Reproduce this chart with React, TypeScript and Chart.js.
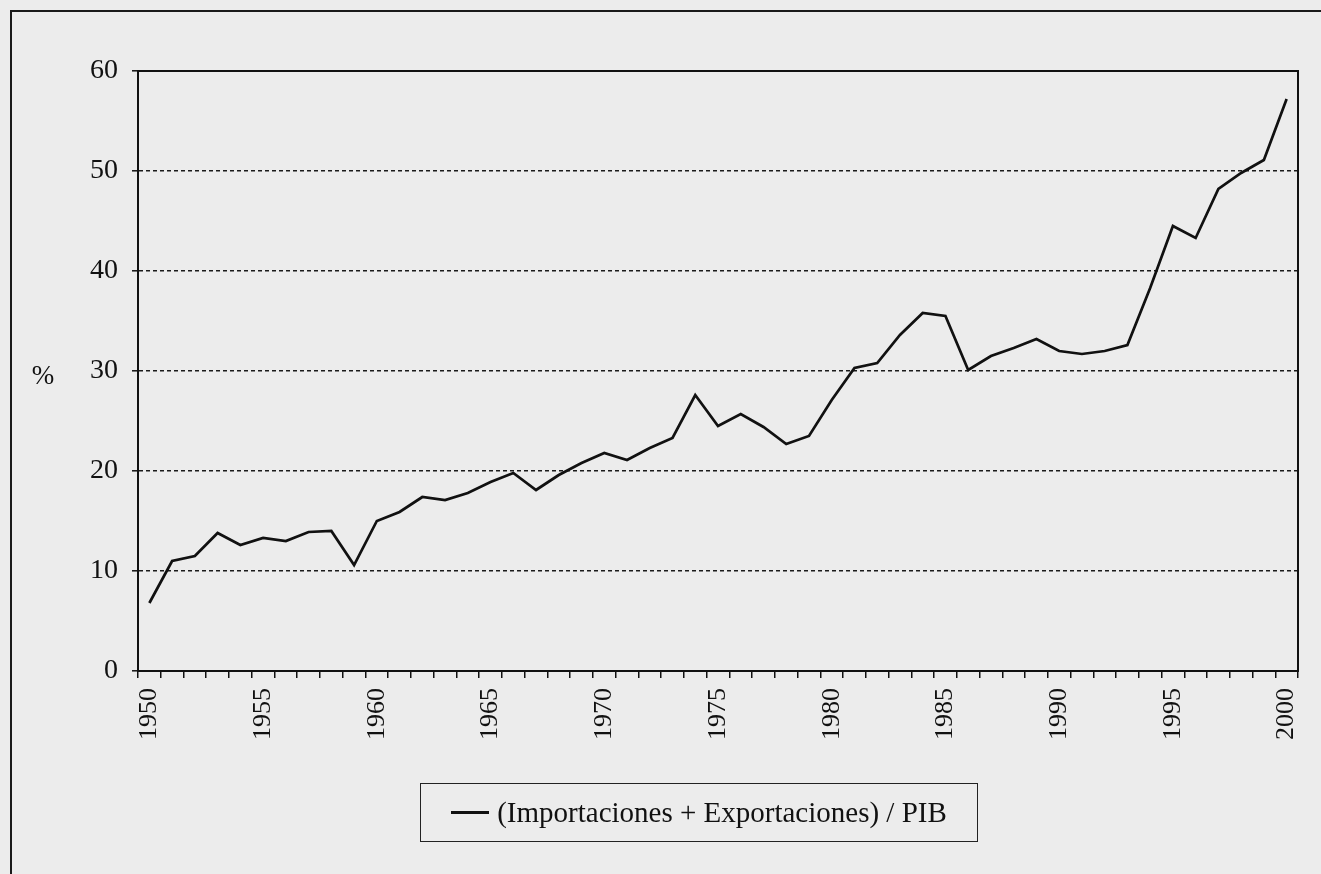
import React, { useEffect, useRef } from "react";
import { Chart, registerables } from "chart.js";

Chart.register(...registerables);

const years: string[] = [
  "1950", "1951", "1952", "1953", "1954", "1955", "1956", "1957", "1958", "1959",
  "1960", "1961", "1962", "1963", "1964", "1965", "1966", "1967", "1968", "1969",
  "1970", "1971", "1972", "1973", "1974", "1975", "1976", "1977", "1978", "1979",
  "1980", "1981", "1982", "1983", "1984", "1985", "1986", "1987", "1988", "1989",
  "1990", "1991", "1992", "1993", "1994", "1995", "1996", "1997", "1998", "1999",
  "2000",
];

const apertura: number[] = [
  6.8, 11.0, 11.5, 13.8, 12.6, 13.3, 13.0, 13.9, 14.0, 10.6,
  15.0, 15.9, 17.4, 17.1, 17.8, 18.9, 19.8, 18.1, 19.6, 20.8,
  21.8, 21.1, 22.3, 23.3, 27.6, 24.5, 25.7, 24.4, 22.7, 23.5,
  27.1, 30.3, 30.8, 33.6, 35.8, 35.5, 30.1, 31.5, 32.3, 33.2,
  32.0, 31.7, 32.0, 32.6, 38.3, 44.5, 43.3, 48.2, 49.8, 51.1,
  57.2,
];

const yTicks: number[] = [0, 10, 20, 30, 40, 50, 60];
const seriesLabel = "(Importaciones + Exportaciones) / PIB";
const yTitle = "%";

const FONT = "'Liberation Serif', 'Times New Roman', serif";

const framePlugin = {
  id: "frame",
  afterDraw(chart: any) {
    const { ctx, chartArea } = chart;
    ctx.save();
    ctx.strokeStyle = "#111";
    ctx.lineWidth = 2;
    ctx.setLineDash([]);
    ctx.strokeRect(chartArea.left, chartArea.top, chartArea.right - chartArea.left, chartArea.bottom - chartArea.top);
    ctx.fillStyle = "#111";
    ctx.font = `27px ${FONT}`;
    ctx.textAlign = "center";
    ctx.textBaseline = "middle";
    ctx.fillText(yTitle, chartArea.left - 95, (chartArea.top + chartArea.bottom) / 2 + 6);
    ctx.restore();
  },
};

export default function App() {
  const canvasRef = useRef<HTMLCanvasElement | null>(null);

  useEffect(() => {
    const canvas = canvasRef.current;
    if (!canvas) return;
    const chart = new Chart(canvas, {
      type: "line",
      data: {
        labels: years,
        datasets: [
          {
            label: seriesLabel,
            data: apertura,
            borderColor: "#111",
            borderWidth: 2.7,
            pointRadius: 0,
            tension: 0,
            fill: false,
          },
        ],
      },
      options: {
        animation: false,
        responsive: false,
        devicePixelRatio: 1,
        layout: { padding: { left: 0, right: 23, top: 71, bottom: 123 } },
        plugins: {
          legend: { display: false },
          tooltip: { enabled: false },
        },
        scales: {
          x: {
            type: "category",
            offset: true,
            afterFit: (s: any) => {
              s.height = 80;
              s.paddingLeft = 0;
              s.paddingRight = 0;
            },
            grid: {
              display: true,
              offset: true,
              drawOnChartArea: false,
              drawTicks: true,
              tickLength: 7,
              color: "#111",
              lineWidth: 1.5,
            },
            border: { display: true, color: "#111", width: 2 },
            ticks: {
              autoSkip: false,
              maxRotation: 90,
              minRotation: 90,
              padding: 10,
              color: "#111",
              font: { family: FONT, size: 26 },
              callback: (_v: any, i: number) => (Number(years[i]) % 5 === 0 ? years[i] : ""),
            },
          },
          y: {
            min: yTicks[0],
            max: yTicks[yTicks.length - 1],
            afterFit: (s: any) => {
              s.width = 138;
              s.paddingTop = 0;
              s.paddingBottom = 0;
            },
            afterBuildTicks: (s: any) => {
              s.ticks = yTicks.map((v) => ({ value: v }));
            },
            grid: {
              display: true,
              drawTicks: true,
              tickLength: 6,
              color: "#1a1a1a",
              lineWidth: 1.6,
              tickBorderDash: [],
              tickColor: "#111",
              tickWidth: 1.5,
            },
            border: { display: true, color: "#111", width: 2, dash: [4, 3] },
            ticks: {
              padding: 14,
              color: "#111",
              font: { family: FONT, size: 28 },
            },
          },
        },
      },
      plugins: [framePlugin],
    });
    return () => chart.destroy();
  }, []);

  return (
    <div
      style={{
        position: "fixed",
        left: 0,
        top: 0,
        width: 1321,
        height: 874,
        overflow: "hidden",
        background: "#ececec",
      }}
    >
      <div
        style={{
          position: "absolute",
          left: 10,
          top: 10,
          width: 1400,
          height: 1000,
          border: "2px solid #1a1a1a",
        }}
      />
      <canvas ref={canvasRef} width={1321} height={874} style={{ position: "absolute", left: 0, top: 0 }} />
      <div
        style={{
          position: "absolute",
          left: 420,
          top: 783,
          width: 556,
          height: 57,
          border: "1.5px solid #222",
          display: "flex",
          alignItems: "center",
          justifyContent: "center",
          fontFamily: FONT,
          fontSize: 29,
          color: "#111",
          whiteSpace: "nowrap",
        }}
      >
        <span style={{ display: "inline-block", width: 38, height: 3.5, background: "#111", marginRight: 8 }} />
        <span>{seriesLabel}</span>
      </div>
    </div>
  );
}
